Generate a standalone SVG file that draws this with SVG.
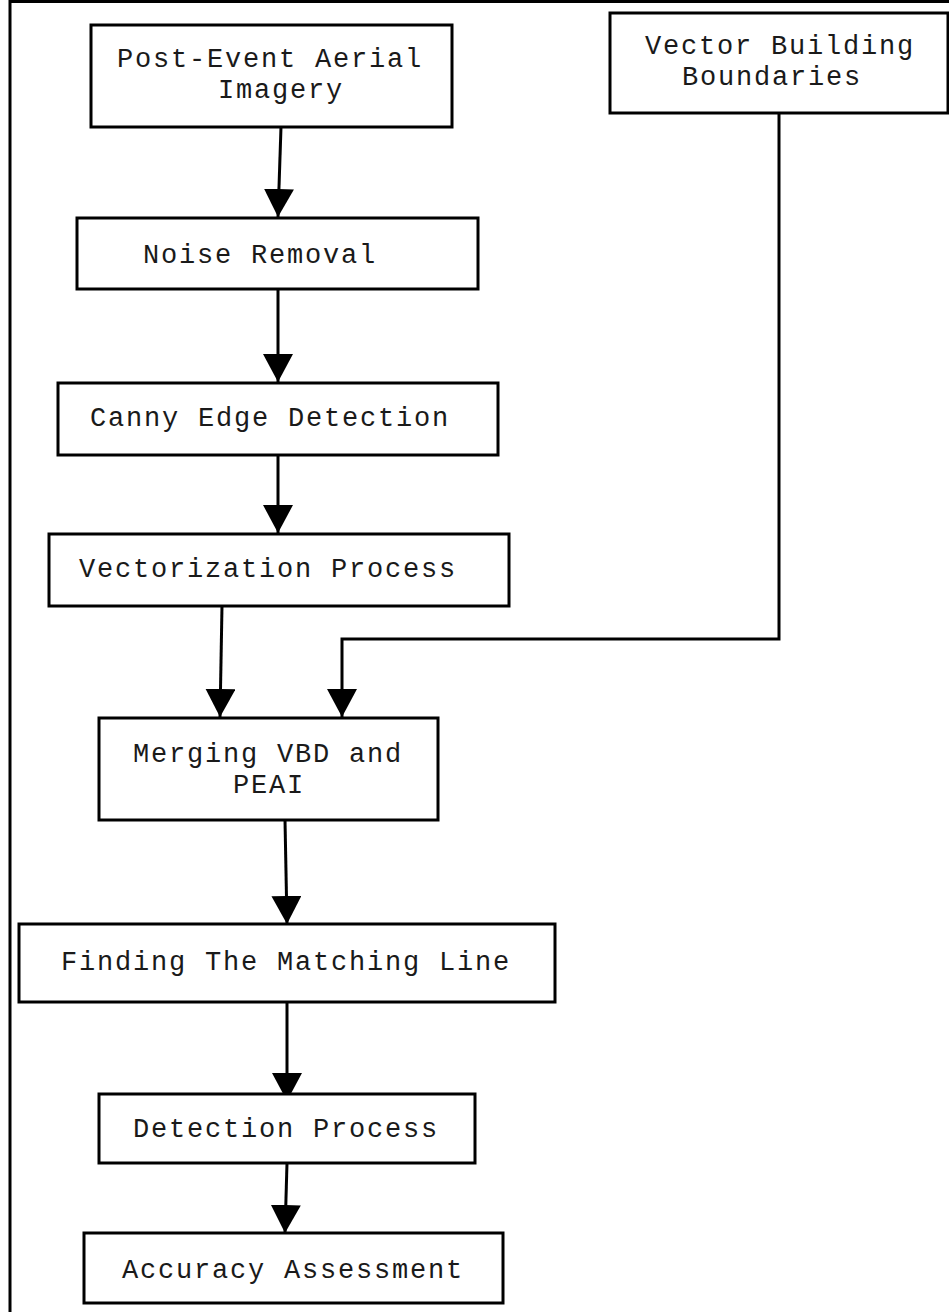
<svg xmlns="http://www.w3.org/2000/svg" width="949" height="1312" viewBox="0 0 949 1312">
<defs>
<style>
.box{fill:#fff;stroke:#000;stroke-width:3}
.lbl{font-family:"Liberation Mono","Courier New",monospace;font-size:27px;letter-spacing:1.8px;fill:#1a1a1a}
.con{fill:none;stroke:#000;stroke-width:3}
</style>
<marker id="ah" markerUnits="userSpaceOnUse" viewBox="0 0 28 30" markerWidth="28" markerHeight="30" refX="28" refY="15" orient="auto">
<path d="M0,0 L28,15 L0,30 z" fill="#000"/>
</marker>
</defs>
<rect width="949" height="1312" fill="#fff"/>
<path d="M10,1312 V1.5 H949" fill="none" stroke="#000" stroke-width="3"/>
<g id="connectors">
<path class="con" d="M281,127 L278,217" marker-end="url(#ah)"/>
<path class="con" d="M278,289 L278,382" marker-end="url(#ah)"/>
<path class="con" d="M278,455 L278,533" marker-end="url(#ah)"/>
<path class="con" d="M222,606 L220,717" marker-end="url(#ah)"/>
<path class="con" d="M779,113 V639 H342 V717" marker-end="url(#ah)"/>
<path class="con" d="M285,820 L287,924" marker-end="url(#ah)"/>
<path class="con" d="M287,1002 L287,1101" marker-end="url(#ah)"/>
<path class="con" d="M287,1163 L285,1233" marker-end="url(#ah)"/>
</g>
<g id="post-event">
<rect class="box" x="91" y="25" width="361" height="102"/>
<text class="lbl" x="117" y="67">Post-Event Aerial</text>
<text class="lbl" x="218" y="98">Imagery</text>
</g>
<g id="vbb">
<rect class="box" x="610" y="13" width="338" height="100"/>
<text class="lbl" x="645" y="54">Vector Building</text>
<text class="lbl" x="682" y="85">Boundaries</text>
</g>
<g id="noise">
<rect class="box" x="77" y="218" width="401" height="71"/>
<text class="lbl" x="143" y="263">Noise Removal</text>
</g>
<g id="canny">
<rect class="box" x="58" y="383" width="440" height="72"/>
<text class="lbl" x="90" y="426">Canny Edge Detection</text>
</g>
<g id="vectorization">
<rect class="box" x="49" y="534" width="460" height="72"/>
<text class="lbl" x="79" y="577">Vectorization Process</text>
</g>
<g id="merging">
<rect class="box" x="99" y="718" width="339" height="102"/>
<text class="lbl" x="133" y="762">Merging VBD and</text>
<text class="lbl" x="233" y="793">PEAI</text>
</g>
<g id="finding">
<rect class="box" x="19" y="924" width="536" height="78"/>
<text class="lbl" x="61" y="970">Finding The Matching Line</text>
</g>
<g id="detection">
<rect class="box" x="99" y="1094" width="376" height="69"/>
<text class="lbl" x="133" y="1137">Detection Process</text>
</g>
<g id="accuracy">
<rect class="box" x="84" y="1233" width="419" height="70"/>
<text class="lbl" x="122" y="1278">Accuracy Assessment</text>
</g>
</svg>
